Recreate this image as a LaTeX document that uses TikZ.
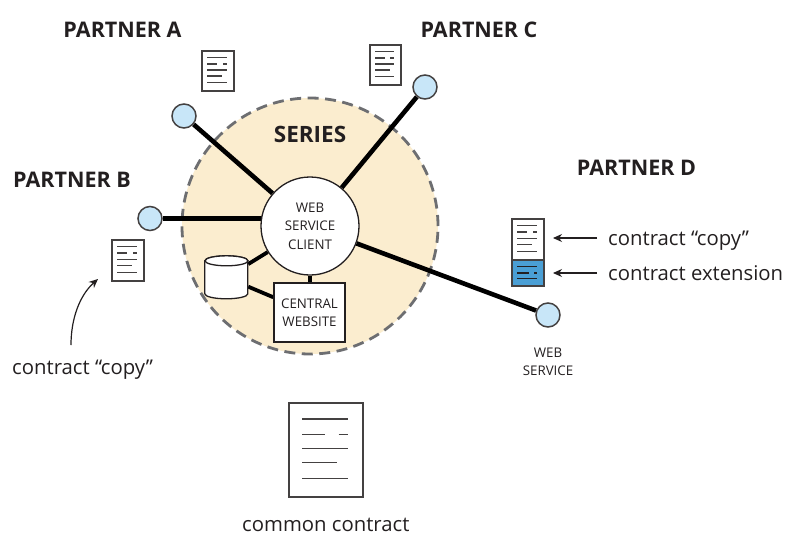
\documentclass[tikz,border=0pt]{standalone}
\usepackage{fontspec}
\setmainfont{Open Sans}
\usetikzlibrary{arrows.meta,backgrounds}
\definecolor{ink}{HTML}{231F20}
\definecolor{beige}{HTML}{FBEDCF}
\definecolor{dashgray}{HTML}{6D6E71}
\definecolor{lightblue}{HTML}{C8E6F8}
\definecolor{midblue}{HTML}{4A9FD5}
\pgfdeclarelayer{back}
\pgfsetlayers{back,background,main}
\tikzset{
  partner/.style={font=\fontsize{21.5}{24}\selectfont\bfseries,text=ink,inner sep=0pt},
  smalltxt/.style={font=\fontsize{13.3}{18.5}\selectfont,text=ink,align=center,inner sep=0pt},
  caption/.style={font=\fontsize{20.3}{24}\selectfont,text=ink,inner sep=0pt,anchor=base west},
  endpoint/.style={circle,draw=ink!85,line width=1.5pt,fill=lightblue,minimum size=24pt,inner sep=0pt},
  wire/.style={line width=4.6pt,draw=black},
  stub/.style={line width=3.8pt,draw=black},
  docbox/.style={rectangle,draw=ink!85,line width=1.4pt,fill=white,inner sep=0pt},
  doctxt/.style={line width=1.5pt,draw=ink!85},
  pointer/.style={line width=1.2pt,draw=ink,-{Stealth[length=9pt,width=8pt]}},
  doclines/.pic={
    \draw[doctxt] (.19,.18)--(.81,.18);
    \draw[doctxt] (.19,.34)--(.50,.34) (.68,.34)--(.81,.34);
    \draw[doctxt] (.19,.49)--(.81,.49);
    \draw[doctxt] (.19,.64)--(.66,.64);
    \draw[doctxt] (.19,.81)--(.81,.81);
  }
}
\begin{document}
\begin{tikzpicture}[x=1pt,y=-1pt]
\useasboundingbox (0,0) rectangle (785,536);
% series region
\begin{pgfonlayer}{back}
\fill[white] (0,0) rectangle (785,536);
\node[circle,fill=beige,draw=dashgray,line width=2.8pt,dash pattern=on 11pt off 6.5pt,minimum size=256pt,inner sep=0pt] (series) at (310,226) {};
\end{pgfonlayer}
\node[partner,font=\fontsize{22.5}{26}\selectfont\bfseries] (serieslabel) at (310,134) {SERIES};
% hub
\node[circle,draw=ink,line width=1.3pt,fill=white,minimum size=98pt,inner sep=0pt,smalltxt] (client) at (310,226) {WEB\\SERVICE\\CLIENT};
\node[rectangle,draw=ink,line width=1.3pt,fill=white,minimum width=71pt,minimum height=59pt,inner sep=0pt,smalltxt] (site) at (309.5,312.5) {CENTRAL\\WEBSITE};
% store: named node carrying a drawn drum
\node[rectangle,minimum width=43pt,minimum height=43pt,inner sep=0pt] (db) at (226.5,277.5) {};
\draw[line width=1.3pt,draw=ink,fill=white] (db.north west) ++(0,5) -- ++(0,33) arc[start angle=180,end angle=360,x radius=21.5pt,y radius=5pt] -- ++(0,-33) arc[start angle=0,end angle=180,x radius=21.5pt,y radius=5pt] -- cycle;
\draw[line width=1.3pt,draw=ink,fill=white] (db.north) ++(0,5) ellipse[x radius=21.5pt,y radius=5pt];
% endpoints
\node[endpoint] (epA) at (184,116) {};
\node[endpoint] (epB) at (150,218.5) {};
\node[endpoint] (epC) at (425,87) {};
\node[endpoint] (epD) at (548,315) {};
% connectors
\begin{pgfonlayer}{background}
\draw[wire] (epA) -- (client);
\draw[wire] (epB) -- (epB -| client);
\draw[wire] (epC) -- (client);
\draw[wire] (epD) -- (client);
\draw[stub] (db) -- (client);
\draw[stub] (db) -- (site);
\draw[stub] (client) -- (client |- site);
\end{pgfonlayer}
% documents
\node[docbox,minimum width=32pt,minimum height=40pt] (docA) at (218,71) {};
\pic[x=32pt,y=-40pt] at (docA.north west) {doclines};
\node[docbox,minimum width=31pt,minimum height=40pt] (docC) at (385.5,65) {};
\pic[x=31pt,y=-40pt] at (docC.north west) {doclines};
\node[docbox,minimum width=32pt,minimum height=41pt] (docB) at (128,260.5) {};
\pic[x=32pt,y=-41pt] at (docB.north west) {doclines};
\node[docbox,minimum width=74pt,minimum height=94pt] (docCommon) at (326,450) {};
\pic[x=74pt,y=-94pt] at (docCommon.north west) {doclines};
% extended document
\node[docbox,minimum width=32pt,minimum height=41pt] (docD) at (528,239.5) {};
\pic[x=32pt,y=-41pt] at (docD.north west) {doclines};
\node[docbox,fill=midblue,minimum width=32pt,minimum height=26pt] (docExt) at (528,273) {};
\draw[doctxt,draw=ink] (docExt.north west) ++(6,7) -- ++(20,0);
\draw[doctxt,draw=ink] (docExt.north west) ++(6,13.5) -- ++(12,0) ++(5,0) -- ++(3,0);
\draw[doctxt,draw=ink] (docExt.north west) ++(6,19) -- ++(20,0);
% partner labels
\node[partner] (pa) at (122.5,30) {PARTNER A};
\node[partner] (pc) at (479,30) {PARTNER C};
\node[partner] (pb) at (72,180) {PARTNER B};
\node[partner] (pd) at (636.5,168) {PARTNER D};
% captions
\node[smalltxt] (wslabel) at (548,362) {WEB\\SERVICE};
\node[caption] (capcopy) at (608,245) {contract “copy”};
\node[caption] (capext) at (608,280) {contract extension};
\node[caption] (capb) at (12,374) {contract “copy”};
\node[caption] (capcommon) at (242,531.5) {common contract};
% arrows
\coordinate (tipcopy) at (553,238);
\coordinate (tipext) at (553,273);
\coordinate (tailcopy) at (597,238);
\coordinate (tailext) at (597,273);
\coordinate (tipb) at (98,279);
\coordinate (tailb) at (71,345);
\draw[pointer] (tailcopy) -- (tipcopy);
\draw[pointer] (tailext) -- (tipext);
\draw[pointer] (tailb) .. controls (71,318) and (80,295) .. (tipb);
\end{tikzpicture}
\end{document}
